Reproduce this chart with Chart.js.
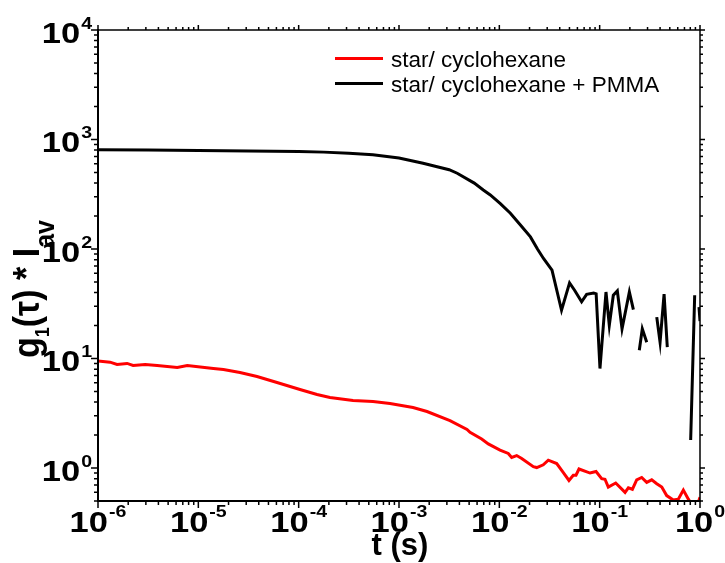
<!DOCTYPE html>
<html>
<head>
<meta charset="utf-8">
<script src="https://cdn.jsdelivr.net/npm/chart.js@4"></script>
<style>
  html, body { margin: 0; padding: 0; background: #fff; }
  #grafico { display: block; }
</style>
</head>
<body>
<canvas id="grafico" width="725" height="563"></canvas>
<script>
// valores (t em expoente de 10, g1*Iav direto)
const serieNomes = ['star/ cyclohexane', 'star/ cyclohexane + PMMA'];
const serieCores = ['#ff0000', '#000000'];

const vermelhoLogT = [-6.00, -5.88, -5.81, -5.71, -5.65, -5.53, -5.41, -5.21, -5.11, -4.85,
    -4.75, -4.585, -4.415, -4.216, -3.987, -3.817, -3.688, -3.458, -3.259, -3.090,
    -2.860, -2.721, -2.492, -2.322, -2.292, -2.176, -2.110, -1.993, -1.911, -1.877,
    -1.827, -1.777, -1.661, -1.627, -1.562, -1.512, -1.428, -1.362, -1.306, -1.263,
    -1.236, -1.206, -1.096, -1.036, -0.980, -0.947, -0.914, -0.840, -0.747, -0.714,
    -0.674, -0.631, -0.581, -0.531, -0.481, -0.431, -0.381, -0.332, -0.266, -0.216,
    -0.166, -0.116, -0.080, -0.030, 0.000];
const vermelhoG = [9.47, 9.27, 8.83, 9.02, 8.65, 8.83, 8.65, 8.29, 8.65, 8.12,
    7.94, 7.46, 6.86, 6.04, 5.21, 4.69, 4.40, 4.14, 4.05, 3.88,
    3.57, 3.28, 2.71, 2.25, 2.12, 1.84, 1.66, 1.46, 1.36, 1.25,
    1.30, 1.22, 1.03, 1.01, 1.07, 1.18, 1.10, 0.91, 0.77, 0.86,
    0.86, 0.98, 0.90, 0.93, 0.80, 0.79, 0.67, 0.73, 0.60, 0.66,
    0.64, 0.78, 0.82, 0.74, 0.78, 0.72, 0.67, 0.56, 0.51, 0.52,
    0.63, 0.52, 0.46, 0.45, 0.54];

const pretoLogT = [-6.00, -5.50, -5.00, -4.50, -4.00, -3.75, -3.50, -3.26, -3.00, -2.76,
    -2.50, -2.42, -2.25, -2.16, -2.09, -1.99, -1.89, -1.79, -1.69, -1.62,
    -1.56, -1.475, -1.38, -1.30, -1.25, -1.18, -1.13, -1.06, -1.035, -0.997,
    -0.937, -0.904, -0.864, -0.824, -0.777, -0.704, -0.664, -0.64, -0.605, -0.575,
    -0.531, -0.48, -0.431, -0.398, -0.358, -0.326, -0.20, -0.093, -0.053, -0.03,
    -0.010, 0.000];
const pretoG = [805, 800, 795, 786, 776, 767, 748, 724, 678, 608,
    530, 492, 400, 346, 312, 260, 212, 166, 129, 100,
    82, 64, 27.6, 49, 42, 33, 38.6, 39.7, 39, 8.1,
    40.5, 20.1, 37.8, 41.4, 18.7, 40.5, 28, null, 11.9, 18.7,
    14.1, null, 23.9, 14.1, 38.8, 12.7, null, 1.8, 37.8, null,
    29.5, 22];

// ticks
const xExpoentes = [-6, -5, -4, -3, -2, -1, 0];
const yExpoentes = [0, 1, 2, 3, 4];
const menores = [2, 3, 4, 5, 6, 7, 8, 9];

const xMin = 1e-6, xMax = 1, yMin = 0.5, yMax = 1e4;

function montarPontos(logT, g) {
    let pts = [];
    for (let i = 0; i < logT.length; i++) {
        pts.push({ x: Math.pow(10, logT[i]), y: g[i] });
    }
    return pts;
}

const FONTE = '"Liberation Sans", Arial, sans-serif';
const ESTICA = 1.15;

function texto(ctx, str, x, y, font, sx) {
    ctx.save();
    ctx.font = font;
    ctx.translate(x, y);
    ctx.scale(sx, 1);
    ctx.fillText(str, 0, 0);
    ctx.restore();
}

function larg(ctx, str, font, sx) {
    ctx.font = font;
    return ctx.measureText(str).width * sx;
}

function potencia(ctx, exp, ancoraX, baseY, expBaseY, alinhar) {
    const fMain = 'bold 30px ' + FONTE;
    const fExp = 'bold 17px ' + FONTE;
    const wMain = larg(ctx, '10', fMain, ESTICA);
    const wExp = larg(ctx, String(exp), fExp, ESTICA);
    let x0 = alinhar === 'right' ? ancoraX - wMain - wExp - 1 : ancoraX - (wMain + wExp + 1) / 2;
    ctx.textAlign = 'left';
    ctx.textBaseline = 'alphabetic';
    texto(ctx, '10', x0, baseY, fMain, ESTICA);
    texto(ctx, String(exp), x0 + wMain + 1, expBaseY, fExp, ESTICA);
}

const eixosPlugin = {
    id: 'eixos',
    afterDatasetsDraw(chart) {
        const ctx = chart.ctx;
        const a = chart.chartArea;
        const sx = chart.scales.x, sy = chart.scales.y;
        ctx.save();
        ctx.strokeStyle = '#000';
        ctx.fillStyle = '#000';

        // moldura
        ctx.lineWidth = 1.5;
        ctx.beginPath();
        ctx.moveTo(a.left, a.top); ctx.lineTo(a.right, a.top);
        ctx.moveTo(a.right, a.top); ctx.lineTo(a.right, a.bottom);
        ctx.stroke();
        ctx.lineWidth = 2;
        ctx.beginPath();
        ctx.moveTo(a.left, a.top - 1); ctx.lineTo(a.left, a.bottom);
        ctx.lineTo(a.right + 1, a.bottom);
        ctx.stroke();

        // ticks x
        ctx.lineWidth = 1.5;
        ctx.beginPath();
        for (let i = 0; i < xExpoentes.length; i++) {
            const e = xExpoentes[i];
            const px = sx.getPixelForValue(Math.pow(10, e));
            ctx.moveTo(px, a.bottom); ctx.lineTo(px, a.bottom + 7);
            ctx.moveTo(px, a.top); ctx.lineTo(px, a.top - 5);
            if (i < xExpoentes.length - 1) {
                for (const k of menores) {
                    const pm = sx.getPixelForValue(k * Math.pow(10, e));
                    ctx.moveTo(pm, a.bottom); ctx.lineTo(pm, a.bottom + 4);
                    ctx.moveTo(pm, a.top); ctx.lineTo(pm, a.top - 3);
                }
            }
        }
        // ticks y
        for (let e = -1; e <= 4; e++) {
            const v = Math.pow(10, e);
            if (v >= yMin && v <= yMax) {
                const py = sy.getPixelForValue(v);
                ctx.moveTo(a.left, py); ctx.lineTo(a.left - 7, py);
                ctx.moveTo(a.right, py); ctx.lineTo(a.right + 5, py);
            }
            if (e < 4) {
                for (const k of menores) {
                    const vm = k * v;
                    if (vm < yMin || vm > yMax) continue;
                    const pm = sy.getPixelForValue(vm);
                    ctx.moveTo(a.left, pm); ctx.lineTo(a.left - 4, pm);
                    ctx.moveTo(a.right, pm); ctx.lineTo(a.right + 3, pm);
                }
            }
        }
        ctx.stroke();

        // rotulos
        for (const e of xExpoentes) {
            const px = sx.getPixelForValue(Math.pow(10, e));
            potencia(ctx, e, px, a.bottom + 31, a.bottom + 16, 'center');
        }
        for (const e of yExpoentes) {
            const py = sy.getPixelForValue(Math.pow(10, e));
            potencia(ctx, e, a.left - 6, py + 12.5, py - 1.3, 'right');
        }

        // titulo x
        ctx.font = 'bold 31px ' + FONTE;
        ctx.textAlign = 'center';
        ctx.fillText('t (s)', (a.left + a.right) / 2 + 1, 555);

        // titulo y com subscritos
        const fMain = 'bold 34px ' + FONTE;
        const fSub1 = 'bold 18px ' + FONTE;
        const fSub2 = 'bold 25px ' + FONTE;
        const partes = [
            ['g', fMain, 0], ['1', fSub1, 9], ['(\u03c4) * I', fMain, 0], ['av', fSub2, 14]
        ];
        let total = 0;
        for (const p of partes) total += larg(ctx, p[0], p[1], 1);
        ctx.save();
        ctx.translate(39, 289);
        ctx.rotate(-Math.PI / 2);
        ctx.scale(1, 1.1);
        ctx.textAlign = 'left';
        let cx = -total / 2;
        for (const p of partes) {
            ctx.font = p[1];
            ctx.fillText(p[0], cx, p[2]);
            cx += ctx.measureText(p[0]).width;
        }
        ctx.restore();

        // legenda
        const ds = chart.data.datasets;
        const legY = [58.5, 83.5];
        ctx.font = '22.5px ' + FONTE;
        ctx.textAlign = 'left';
        for (let i = 0; i < ds.length; i++) {
            ctx.strokeStyle = ds[i].borderColor;
            ctx.lineWidth = 3;
            ctx.beginPath();
            ctx.moveTo(335, legY[i]); ctx.lineTo(383, legY[i]);
            ctx.stroke();
            ctx.fillText(ds[i].label, 391, legY[i] + 8);
        }
        ctx.restore();
    }
};

const grafico = new Chart(document.getElementById('grafico'), {
    type: 'line',
    data: {
        datasets: [
            {
                label: serieNomes[0],
                data: montarPontos(vermelhoLogT, vermelhoG),
                borderColor: serieCores[0],
                borderWidth: 3,
                pointRadius: 0,
                tension: 0,
                spanGaps: false
            },
            {
                label: serieNomes[1],
                data: montarPontos(pretoLogT, pretoG),
                borderColor: serieCores[1],
                borderWidth: 3,
                pointRadius: 0,
                tension: 0,
                spanGaps: false
            }
        ]
    },
    options: {
        responsive: false,
        animation: false,
        devicePixelRatio: 1,
        layout: { padding: { left: 98, right: 25, top: 30, bottom: 62 } },
        scales: {
            x: { type: 'logarithmic', min: xMin, max: xMax, display: false },
            y: { type: 'logarithmic', min: yMin, max: yMax, display: false }
        },
        plugins: {
            legend: { display: false },
            tooltip: { enabled: false }
        }
    },
    plugins: [eixosPlugin]
});
</script>
</body>
</html>
